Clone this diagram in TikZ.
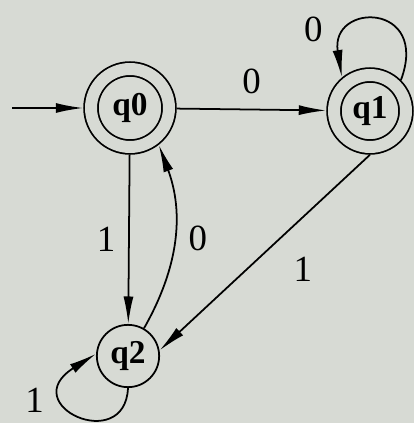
\documentclass[tikz,border=0pt]{standalone}
\usepackage{fontspec}
\setmainfont{Liberation Serif}
\usetikzlibrary{arrows.meta,positioning}
\definecolor{PageGray}{HTML}{D7DAD4}

\begin{document}
\begin{tikzpicture}[x=0.02cm,y=-0.02cm,line width=1pt,>={Latex[length=0.55cm,width=0.2cm]},
  stateNode/.style={circle,draw,font=\fontsize{19}{21}\selectfont\bfseries},
  acceptNode/.style={stateNode,double=PageGray,double distance=0.24cm,outer sep=0.155cm},
  edgeLabel/.style={font=\fontsize{21}{24}\selectfont,inner sep=1pt}]
  \path[use as bounding box,fill=PageGray] (0,0) rectangle (414,423);
  \node[acceptNode,minimum size=1.56cm] (q0) at (130,108) {q0};
  \node[acceptNode,minimum size=1.44cm] (q1) at (370,111) {q1};
  \node[stateNode,minimum size=1.24cm] (q2) at (128,356) {q2};
  \coordinate (start) at (12,108);
  \draw[->] (start) -- (q0);
  \draw[->] (q0) -- node[edgeLabel,above=0.26cm] (l01) {0} (q1);
  \draw[->] (q0) -- node[edgeLabel,left=0.22cm] (l02) {1} (q2);
  \draw[->] (q2.60) to[bend right=25] node[edgeLabel,right=0.24cm] (l20) {0} (q0.-52);
  \draw[->] (q1.-90) -- node[edgeLabel,xshift=0.76cm,yshift=-0.34cm] (l12) {1} (q2.10);
  \draw[->] (q1.45) .. controls (430,2) and (330,2) .. node[edgeLabel,pos=0.75,left=0.5cm,yshift=0.12cm] (l11) {0} (q1.130);
  \draw[->] (q2.-90) .. controls (125,455) and (15,405) .. node[edgeLabel,pos=0.75,left=0.4cm,yshift=-0.2cm] (l22) {1} (q2.176);
\end{tikzpicture}
\end{document}
